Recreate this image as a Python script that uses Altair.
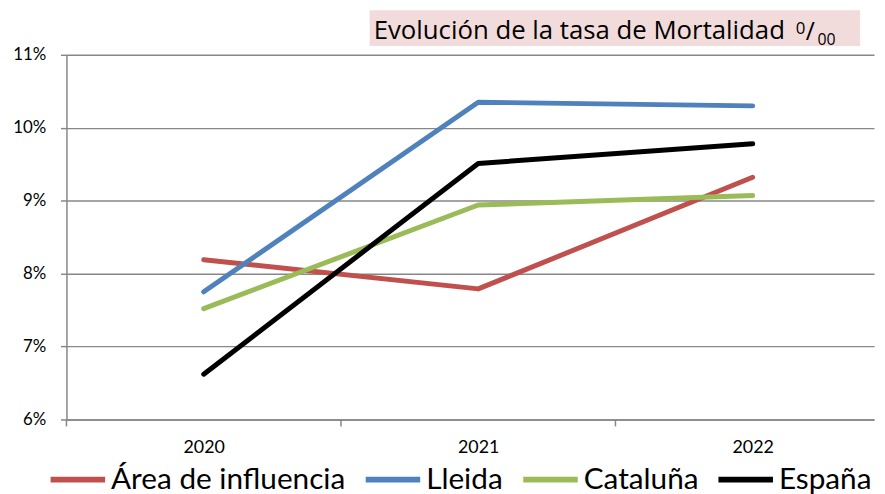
import altair as alt
import pandas as pd

years = [2020, 2021, 2022]
series = ["Área de influencia", "Lleida", "Cataluña", "España"]
colors = ["#C0504D", "#4F81BD", "#9BBB59", "#000000"]
area = [8.19, 7.79, 9.32]
lleida = [7.75, 10.35, 10.30]
cataluna = [7.52, 8.94, 9.07]
espana = [6.62, 9.51, 9.78]
y_ticks = [6, 7, 8, 9, 10, 11]
cat_bounds = [2019.5, 2020.5, 2021.5]
title_main = "Evolución de la tasa de Mortalidad"

rows = []
for i, (name, vals) in enumerate(zip(series, [area, lleida, cataluna, espana])):
    for yr, v in zip(years, vals):
        rows.append({"serie": name, "year": yr, "value": v, "ord": i})
df = pd.DataFrame(rows)

GRAY = "#878787"
FONT = "Lato"
TFONT = "Open Sans"

xscale = alt.Scale(domain=[2019.5, 2022.442], nice=False, zero=False)
yscale = alt.Scale(domain=[6, 11], nice=False, zero=False)

lines = alt.Chart(df).mark_line(strokeWidth=5, strokeCap="round", strokeJoin="round").encode(
    x=alt.X("year:Q", scale=xscale,
            axis=alt.Axis(values=years, format="d", ticks=False, grid=False, title=None,
                          domainColor=GRAY, domainWidth=1.5, labelFontSize=18,
                          labelPadding=19, labelColor="#000000", labelFont=FONT)),
    y=alt.Y("value:Q", scale=yscale,
            axis=alt.Axis(values=y_ticks, labelExpr="datum.value + '%'", title=None,
                          grid=True, gridColor=GRAY, gridWidth=1.5,
                          domainColor=GRAY, domainWidth=1.5,
                          tickColor=GRAY, tickWidth=1.5, tickSize=6,
                          labelFontSize=17, labelPadding=15, labelColor="#000000",
                          labelFont=FONT)),
    color=alt.Color("serie:N", scale=alt.Scale(domain=series, range=colors),
                    legend=alt.Legend(orient="none", legendX=-19, legendY=398,
                                      direction="horizontal", title=None,
                                      symbolType="stroke", symbolSize=3025,
                                      symbolStrokeWidth=6, labelFontSize=30,
                                      labelFont=FONT, labelColor="#000000",
                                      labelOffset=3, columnPadding=8, padding=0,
                                      labelLimit=400)),
    order="ord:Q",
    detail="serie:N",
)

ticks_df = pd.DataFrame({"xb": cat_bounds})
xticks = alt.Chart(ticks_df).mark_rule(color=GRAY, strokeWidth=1.5).encode(
    x=alt.X("xb:Q", scale=xscale), y=alt.value(368), y2=alt.value(375)
)

one = pd.DataFrame({"t": [title_main]})
title_box = alt.Chart(one).mark_rect(color="#F2DCDB").encode(
    x=alt.value(306), x2=alt.value(801), y=alt.value(-45), y2=alt.value(-9)
)
title_txt = alt.Chart(one).mark_text(align="left", baseline="alphabetic", font=TFONT,
                                     fontSize=26, color="#000000").encode(
    x=alt.value(310), y=alt.value(-16), text="t:N"
)
sup = alt.Chart(pd.DataFrame({"t": ["0"]})).mark_text(align="left", baseline="alphabetic",
    font=TFONT, fontSize=17, color="#000000").encode(x=alt.value(736), y=alt.value(-21), text="t:N")
slash = alt.Chart(pd.DataFrame({"t": ["/"]})).mark_text(align="left", baseline="alphabetic",
    font=TFONT, fontSize=25, color="#000000").encode(x=alt.value(746), y=alt.value(-15), text="t:N")
sub = alt.Chart(pd.DataFrame({"t": ["00"]})).mark_text(align="left", baseline="alphabetic",
    font=TFONT, fontSize=16, color="#000000").encode(x=alt.value(758), y=alt.value(-10), text="t:N")

chart = alt.layer(title_box, title_txt, sup, slash, sub, xticks, lines).properties(
    width=815, height=368,
    autosize=alt.AutoSizeParams(type="none"),
    padding={"left": 59, "top": 45, "right": 3, "bottom": 73},
    background="white",
).configure_view(stroke=None)

chart.save("out.html", embed_options={"renderer": "svg", "actions": False})
